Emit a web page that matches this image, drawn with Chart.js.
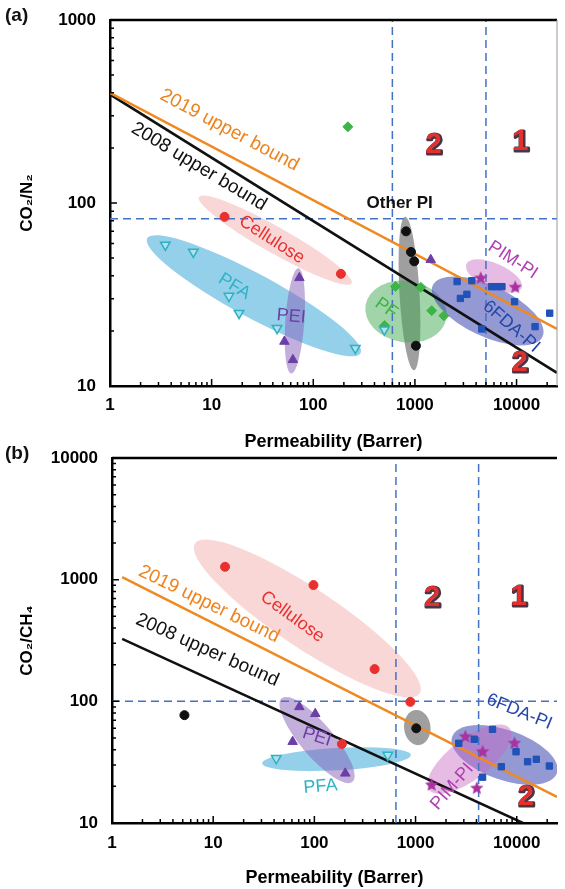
<!DOCTYPE html>
<html>
<head>
<meta charset="utf-8">
<script src="https://cdn.jsdelivr.net/npm/chart.js@4.4.0/dist/chart.umd.min.js"></script>
<style>
  html, body { margin: 0; padding: 0; background: #fff; }
  body { width: 565px; height: 889px; position: relative; overflow: hidden; }
  canvas { position: absolute; left: 0; }
  #chartA { top: 0; }
  #chartB { top: 440px; }
</style>
</head>
<body>
<canvas id="chartA" width="565" height="455"></canvas>
<canvas id="chartB" width="565" height="449"></canvas>
<script>
// ---- data: [permeability (Barrer), selectivity] ----
const xTicks = [1, 10, 100, 1000, 10000];
const yTicksA = [10, 100, 1000];
const yTicksB = [10, 100, 1000, 10000];

// (a) CO2/N2
const celluloseA = [[13.4, 84], [187, 41]];
const pfaA = [[3.5, 59], [6.6, 54], [14.8, 31], [18.6, 25], [44, 20.7], [259, 16.1], [500, 20.3]];
const peiA = [[73, 39], [52, 17.5], [63, 13.9], [1430, 49]];
const otherPiA = [[818, 70], [915, 54], [985, 48], [1023, 16.6]];
const pfA = [[644, 35], [1143, 34.6], [1462, 25.8], [1928, 24.2], [504, 21.4], [219, 261]];
const fdaA = [[2600, 37.2], [3630, 37.6], [3245, 31.7], [2800, 30.1], [5680, 34.9], [6340, 34.9],
              [7180, 34.9], [9570, 28.9], [21200, 25], [15200, 21.1], [4540, 20.5]];
const pimA = [[4440, 38.8], [9700, 34.6]];
const bound2019A = [[1, 400], [25000, 20.5]];
const bound2008A = [[1, 392], [25000, 11.8]];
const dashXA = [600, 5000];
const dashYA = 82;

// (b) CO2/CH4
const celluloseB = [[13.1, 1276], [98, 903], [394, 184], [888, 99], [187, 44.6]];
const otherPiB = [[5.2, 77], [1016, 60]];
const peiB = [[71, 90], [102, 79], [61, 46.6], [202, 25.6]];
const pfaB = [[42, 34], [532, 36.2]];
const pimB = [[3105, 51.2], [4600, 38.5], [9500, 45.2], [1440, 20.5], [4030, 19.3]];
const fdaB = [[2675, 45.2], [3800, 48.8], [5760, 58.9], [9840, 38.5], [7040, 29], [4600, 23.8],
              [12800, 31.9], [15600, 33.4], [21000, 29.4]];
const bound2019B = [[1.26, 1050], [25000, 16.4]];
const bound2008B = [[1.26, 326], [11500, 10]];
const dashXB = [640, 4200];
const dashYB = 100;

Chart.defaults.font.family = "'Liberation Sans', Arial, sans-serif";

const pts = arr => arr.map(([x, y]) => ({ x, y }));

function starImage(color, r) {
  const c = document.createElement('canvas');
  c.width = c.height = 2 * r + 2;
  const g = c.getContext('2d');
  g.beginPath();
  for (let i = 0; i < 10; i++) {
    const rr = i % 2 ? r * 0.45 : r;
    const a = -Math.PI / 2 + i * Math.PI / 5;
    g.lineTo(r + 1 + rr * Math.cos(a), r + 1 + rr * Math.sin(a));
  }
  g.closePath();
  g.fillStyle = color;
  g.fill();
  return c;
}
const star = starImage('#a8329f', 7);

const styles = {
  cellulose: { pointStyle: 'circle', radius: 4.5, backgroundColor: '#e8302e', borderColor: '#e8302e' },
  other: { pointStyle: 'circle', radius: 4.5, backgroundColor: '#111', borderColor: '#111' },
  pei: { pointStyle: 'triangle', radius: 5.5, backgroundColor: '#6b3fa6', borderColor: '#6b3fa6' },
  pfa: { pointStyle: 'triangle', rotation: 180, radius: 5.5, backgroundColor: '#b0e2ec', borderColor: '#2fb0c4', borderWidth: 1.5 },
  pf: { pointStyle: 'rectRot', radius: 5, backgroundColor: '#3fb24a', borderColor: '#3fb24a' },
  fda: { pointStyle: 'rect', radius: 4.5, backgroundColor: '#2052b8', borderColor: '#2052b8' },
  pim: { pointStyle: star, radius: 7, backgroundColor: '#a8329f', borderColor: '#a8329f' }
};

function scatterSet(data, s) {
  return {
    type: 'scatter', data: pts(data), order: 0,
    pointStyle: s.pointStyle, pointRadius: s.radius, rotation: s.rotation || 0,
    backgroundColor: s.backgroundColor, borderColor: s.borderColor, borderWidth: s.borderWidth || 1
  };
}
function lineSet(data, color, width, dash, order) {
  return {
    type: 'line', data: pts(data), borderColor: color, borderWidth: width,
    borderDash: dash || [], pointRadius: 0, fill: false, tension: 0, order: order
  };
}
function dashSets(xs, yv, xMin, xMax, yMin, yMax) {
  const sets = xs.map(v => lineSet([[v, yMin], [v, yMax]], '#4272c4', 1.5, [8, 5], 2));
  sets.push(lineSet([[xMin, yv], [xMax, yv]], '#4272c4', 1.5, [8, 5], 2));
  return sets;
}

function logTicks(min, max) {
  const out = [];
  for (let d = Math.floor(Math.log10(min)); d <= Math.ceil(Math.log10(max)); d++) {
    for (let m = 1; m < 10; m++) {
      const v = m * Math.pow(10, d);
      if (v >= min * 0.999 && v <= max * 1.001) out.push([v, m === 1]);
    }
  }
  return out;
}

function decoPlugin(deco) {
  return {
    id: 'deco',
    beforeDatasetsDraw(chart) {
      const { ctx, chartArea: a, scales: { x, y } } = chart;
      ctx.save();
      ctx.beginPath();
      ctx.rect(a.left, a.top, a.right - a.left, a.bottom - a.top);
      ctx.clip();
      deco.ellipses.forEach(e => {
        const x1 = x.getPixelForValue(e.from[0]), y1 = y.getPixelForValue(e.from[1]);
        const x2 = x.getPixelForValue(e.to[0]), y2 = y.getPixelForValue(e.to[1]);
        const rx = Math.hypot(x2 - x1, y2 - y1) / 2;
        ctx.beginPath();
        ctx.ellipse((x1 + x2) / 2, (y1 + y2) / 2, rx, rx * e.ratio, Math.atan2(y2 - y1, x2 - x1), 0, Math.PI * 2);
        ctx.fillStyle = e.color;
        ctx.fill();
      });
      ctx.restore();
    },
    afterDatasetsDraw(chart) {
      const { ctx, chartArea: a, scales: { x, y } } = chart;
      ctx.save();
      // group labels
      ctx.textAlign = 'center';
      ctx.textBaseline = 'middle';
      deco.labels.forEach(l => {
        ctx.save();
        ctx.translate(x.getPixelForValue(l.at[0]), y.getPixelForValue(l.at[1]));
        ctx.rotate(l.rot * Math.PI / 180);
        ctx.font = (l.bold ? 'bold ' : '') + (l.size || 18) + "px 'Liberation Sans', Arial, sans-serif";
        ctx.fillStyle = l.color;
        ctx.fillText(l.t, 0, 0);
        ctx.restore();
      });
      // region numbers
      ctx.font = "bold 29px 'Liberation Sans', Arial, sans-serif";
      ctx.lineJoin = 'round';
      deco.nums.forEach(n => {
        const px = x.getPixelForValue(n.at[0]), py = y.getPixelForValue(n.at[1]);
        ctx.lineWidth = 3;
        ctx.strokeStyle = '#4a3448';
        ctx.strokeText(n.t, px + 1, py + 1);
        ctx.fillStyle = '#e3302b';
        ctx.fillText(n.t, px, py);
      });
      // inward tick marks
      ctx.strokeStyle = '#000';
      ctx.lineWidth = 1.5;
      ctx.beginPath();
      logTicks(x.min, x.max).forEach(([v, major]) => {
        const px = x.getPixelForValue(v);
        ctx.moveTo(px, a.bottom);
        ctx.lineTo(px, a.bottom - (major ? 7 : 4));
      });
      logTicks(y.min, y.max).forEach(([v, major]) => {
        const py = y.getPixelForValue(v);
        ctx.moveTo(a.left, py);
        ctx.lineTo(a.left + (major ? 7 : 4), py);
      });
      ctx.stroke();
      // frame
      ctx.lineWidth = 2.5;
      ctx.beginPath();
      ctx.moveTo(a.left, a.top);
      ctx.lineTo(a.right, a.top);
      ctx.stroke();
      if (deco.rightFrame) {
        ctx.strokeStyle = '#999';
        ctx.lineWidth = 1;
        ctx.beginPath();
        ctx.moveTo(a.right, a.top);
        ctx.lineTo(a.right, a.bottom);
        ctx.stroke();
      }
      // panel letter
      ctx.fillStyle = '#111';
      ctx.textAlign = 'left';
      ctx.font = "bold 19px 'Liberation Sans', Arial, sans-serif";
      ctx.fillText(deco.panel, 5, a.top - (deco.panelDy || 4));
      ctx.restore();
    }
  };
}

function makeChart(id, o) {
  const tickFont = { size: 17, weight: 'bold' };
  return new Chart(document.getElementById(id), {
    data: { datasets: o.datasets },
    options: {
      responsive: false,
      animation: false,
      layout: { padding: o.padding },
      plugins: { legend: { display: false }, tooltip: { enabled: false } },
      scales: {
        x: {
          type: 'logarithmic', position: 'bottom', min: 1, max: 25000,
          afterBuildTicks: s => { s.ticks = xTicks.map(v => ({ value: v })); },
          afterFit: s => { s.height = o.xHeight; s.paddingLeft = 0; s.paddingRight = 0; },
          ticks: { font: tickFont, color: '#000', padding: o.xPad, autoSkip: false, maxRotation: 0, callback: v => String(v) },
          grid: { display: false, drawTicks: false },
          border: { display: true, color: '#000', width: 2.5 },
          title: { display: true, text: 'Permeability (Barrer)', color: '#000', font: { size: 18, weight: 'bold' },
                   padding: { top: 0, bottom: o.xTitlePad } }
        },
        y: {
          type: 'logarithmic', position: 'left', min: 10, max: o.yMax,
          afterBuildTicks: s => { s.ticks = o.yTicks.map(v => ({ value: v })); },
          afterFit: s => { s.width = o.yWidth; s.paddingTop = 0; s.paddingBottom = 0; },
          ticks: { font: tickFont, color: '#000', padding: 14, autoSkip: false, callback: v => String(v) },
          grid: { display: false, drawTicks: false },
          border: { display: true, color: '#000', width: 2.5 },
          title: { display: true, text: o.yTitle, color: '#000', font: { size: 17, weight: 'bold' },
                   padding: { top: 17, bottom: 0 } }
        }
      }
    },
    plugins: [decoPlugin(o.deco)]
  });
}

makeChart('chartA', {
  padding: { top: 20, right: 2, left: 0, bottom: 0 },
  xHeight: 69, xPad: 9, xTitlePad: 2, yWidth: 110, yMax: 1000, yTicks: yTicksA, yTitle: 'CO₂/N₂',
  datasets: [
    scatterSet(celluloseA, styles.cellulose),
    scatterSet(pfaA, styles.pfa),
    scatterSet(peiA, styles.pei),
    scatterSet(otherPiA, styles.other),
    scatterSet(pfA, styles.pf),
    scatterSet(fdaA, styles.fda),
    scatterSet(pimA, styles.pim),
    lineSet(bound2019A, '#ef8a22', 2.5, null, 1),
    lineSet(bound2008A, '#111', 2.5, null, 1),
    ...dashSets(dashXA, dashYA, 1, 25000, 10, 1000)
  ],
  deco: {
    panel: '(a)', panelDy: 4, rightFrame: true,
    ellipses: [
      { from: [7.48, 108], to: [239, 36.4], ratio: 0.15, color: 'rgba(244,160,160,0.42)' },
      { from: [2.32, 64.1], to: [292, 15.1], ratio: 0.18, color: 'rgba(60,170,215,0.55)' },
      { from: [71.5, 44], to: [60.7, 11.7], ratio: 0.18, color: 'rgba(135,95,185,0.5)' },
      { from: [800, 84.2], to: [977, 12.2], ratio: 0.13, color: 'rgba(80,80,80,0.55)' },
      { from: [327, 27.7], to: [2046, 23.5], ratio: 0.75, color: 'rgba(70,170,85,0.5)' },
      { from: [1500, 35.5], to: [18000, 18.6], ratio: 0.42, color: 'rgba(60,70,175,0.55)' },
      { from: [3200, 46.4], to: [11200, 34.3], ratio: 0.42, color: 'rgba(200,105,195,0.45)' }
    ],
    labels: [
      { t: '2019 upper bound', at: [15, 250], rot: 28, color: '#ee8420', size: 19 },
      { t: '2008 upper bound', at: [7.5, 158], rot: 31, color: '#111', size: 19 },
      { t: 'Cellulose', at: [39, 63], rot: 33, color: '#e8302e' },
      { t: 'PFA', at: [16.7, 35], rot: 32, color: '#2fb3c6' },
      { t: 'PEI', at: [60.7, 24], rot: 5, color: '#6b3fa6' },
      { t: 'Other PI', at: [708, 99], rot: 0, color: '#111', bold: true, size: 17 },
      { t: 'PF', at: [523, 26.6], rot: 35, color: '#3fb24a' },
      { t: 'PIM-PI', at: [9200, 48.8], rot: 33, color: '#b040b0' },
      { t: '6FDA-PI', at: [8890, 21.1], rot: 41, color: '#2447a8' }
    ],
    nums: [
      { t: '2', at: [1522, 207] }, { t: '1', at: [10900, 216] }, { t: '2', at: [10700, 13.3] }
    ]
  }
});

makeChart('chartB', {
  padding: { top: 18, right: 0, left: 0, bottom: 0 },
  xHeight: 66, xPad: 10, xTitlePad: 0, yWidth: 112, yMax: 10000, yTicks: yTicksB, yTitle: 'CO₂/CH₄',
  datasets: [
    scatterSet(celluloseB, styles.cellulose),
    scatterSet(pfaB, styles.pfa),
    scatterSet(peiB, styles.pei),
    scatterSet(otherPiB, styles.other),
    scatterSet(fdaB, styles.fda),
    scatterSet(pimB, styles.pim),
    lineSet(bound2019B, '#ef8a22', 2.5, null, 1),
    lineSet(bound2008B, '#111', 2.5, null, 1),
    ...dashSets(dashXB, dashYB, 1, 25000, 10, 10000)
  ],
  deco: {
    panel: '(b)', panelDy: 4, rightFrame: false,
    ellipses: [
      { from: [6.6, 1986], to: [1099, 116], ratio: 0.22, color: 'rgba(244,160,160,0.42)' },
      { from: [30.5, 30.9], to: [898, 36.2], ratio: 0.15, color: 'rgba(60,170,215,0.55)' },
      { from: [47.5, 106], to: [238, 21.8], ratio: 0.3, color: 'rgba(135,95,185,0.5)' },
      { from: [1000, 84.8], to: [1081, 43.7], ratio: 0.75, color: 'rgba(80,80,80,0.55)' },
      { from: [2300, 51.2], to: [25000, 25.7], ratio: 0.45, color: 'rgba(60,70,175,0.55)' },
      { from: [1368, 18.7], to: [8500, 60], ratio: 0.4, color: 'rgba(200,105,195,0.45)' }
    ],
    labels: [
      { t: '2019 upper bound', at: [9.1, 630], rot: 26, color: '#ee8420', size: 19 },
      { t: '2008 upper bound', at: [8.74, 264], rot: 24, color: '#111', size: 19 },
      { t: 'Cellulose', at: [60.5, 495], rot: 36, color: '#e8302e' },
      { t: 'PEI', at: [106, 51], rot: 18, color: '#6b3fa6' },
      { t: 'PFA', at: [115, 19.9], rot: -5, color: '#2fb3c6' },
      { t: 'PIM-PI', at: [2300, 19.9], rot: -49, color: '#b040b0' },
      { t: '6FDA-PI', at: [10600, 82], rot: 22, color: '#2447a8' }
    ],
    nums: [
      { t: '2', at: [1456, 702] }, { t: '1', at: [10450, 723] }, { t: '2', at: [12300, 16.4] }
    ]
  }
});
</script>
</body>
</html>
